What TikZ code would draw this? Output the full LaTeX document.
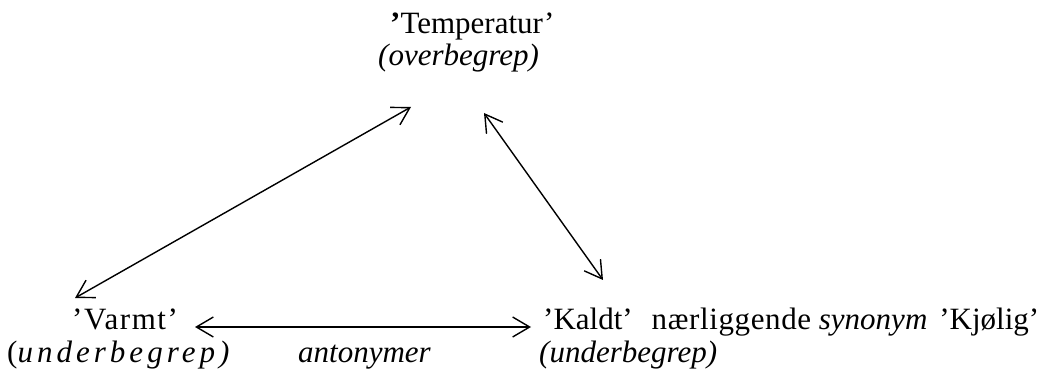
\documentclass[tikz,border=0pt]{standalone}
\usepackage{fontspec}
\setmainfont{Liberation Serif}
\usetikzlibrary{arrows.meta}
\begin{document}
\begin{tikzpicture}[x=1pt,y=1pt,
  lbl/.style={inner sep=0pt,anchor=base west,font=\fontsize{31}{33}\selectfont},
  rel/.style={line width=1.4pt,{Straight Barb[length=17pt,width=20pt,line width=1.4pt]}-{Straight Barb[length=17pt,width=20pt,line width=1.4pt]}}]
\useasboundingbox (0,0) rectangle (1045,-374);
\node[lbl] (temp) at (390,-34) {\textbf{’}Temperatur’};
\node[lbl] (over) at (378,-66) {\textit{(overbegrep)}};
\node[lbl] (varmt) at (72,-330) {\addfontfeature{LetterSpace=5}’Varmt’};
\node[lbl] (under1) at (7,-362) {\addfontfeature{LetterSpace=13}(\textit{underbegrep)}};
\node[lbl] (anton) at (298,-362) {\textit{antonymer}};
\node[lbl] (kaldt) at (543,-330) {’Kaldt’\hspace{19pt}{\addfontfeature{LetterSpace=2}nærliggende} \textit{synonym}\hspace{12pt}’Kjølig’};
\node[lbl] (under2) at (539,-362) {\textit{(underbegrep)}};
\coordinate (v1) at (75,-298);
\coordinate (t1) at (411,-107);
\coordinate (t2) at (484,-113);
\coordinate (k1) at (603,-280);
\coordinate (v2) at (195,-327);
\coordinate (k2) at (531,-327);
\draw[rel] (v1) -- (t1);
\draw[rel] (t2) -- (k1);
\draw[rel] (v2) -- (k2);
\end{tikzpicture}
\end{document}
